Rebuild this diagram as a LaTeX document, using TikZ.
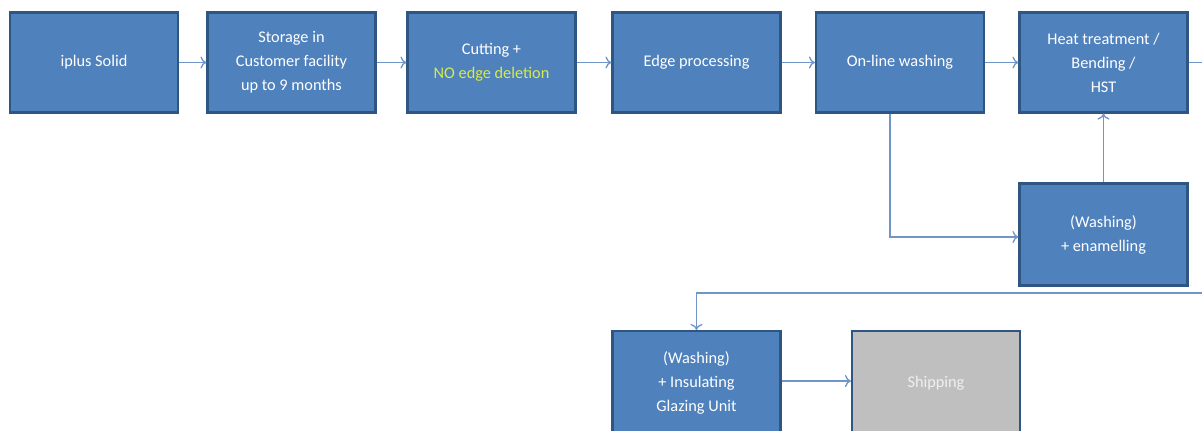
\documentclass[tikz,border=0pt]{standalone}
\usepackage{fontspec}
\setmainfont{Carlito}
\usetikzlibrary{arrows.meta}
\definecolor{boxblue}{HTML}{4F81BD}
\definecolor{boxedge}{HTML}{2F5583}
\definecolor{linkblue}{HTML}{7095C8}
\definecolor{shipgray}{HTML}{BFBFBF}
\definecolor{noedge}{HTML}{D6EB4B}
\begin{document}
\begin{tikzpicture}[x=1pt,y=-1pt,
 proc/.style={draw=boxedge, line width=2.2pt, fill=boxblue, minimum width=168pt, minimum height=100pt, text=white, font=\fontsize{16.3}{24}\selectfont, align=center, inner sep=0pt},
 ship/.style={proc, fill=shipgray, text=white!94!black},
 link/.style={draw=linkblue, line width=1.3pt, -{To[length=6pt,width=12pt]}}
]
\useasboundingbox (0,0) rectangle (1202,431);
\clip (0,0) rectangle (1202,431);
\fill[white] (0,0) rectangle (1202,431);
\node[proc] (a) at (94,62.5) {iplus Solid};
\node[proc] (b) at (291.5,62.5) {Storage in\\Customer facility\\up to 9 months};
\node[proc] (c) at (491.5,62.5) {Cutting +\\\textcolor{noedge}{NO edge deletion}};
\node[proc] (d) at (696.5,62.5) {Edge processing};
\node[proc] (e) at (900,62.5) {On-line washing};
\node[proc] (f) at (1103.5,62.5) {Heat treatment /\\Bending /\\HST};
\node[proc, minimum height=102pt] (g) at (1103.5,234.5) {(Washing)\\+ enamelling};
\node[proc, minimum height=104pt] (h) at (696.5,383) {(Washing)\\+ Insulating\\Glazing Unit};
\node[ship, minimum height=104pt] (i) at (936,383) {Shipping};
\coordinate (r1) at (1220,62.5);
\coordinate (r2) at (1220,293);
\coordinate (r3) at (696.5,293);
\coordinate (e1) at (890,237);
\draw[link] (a) -- (b);
\draw[link] (b) -- (c);
\draw[link] (c) -- (d);
\draw[link] (d) -- (e);
\draw[link] (e) -- (f);
\draw[link] (g) -- (f);
\draw[link] (e.south -| e1) -- (e1) -- (g.west |- e1);
\draw[link] (f.east) -- (r1) -- (r2) -- (r3) -- (h.north);
\draw[link] (h.east |- 0,381) -- (i.west |- 0,381);
\end{tikzpicture}
\end{document}
